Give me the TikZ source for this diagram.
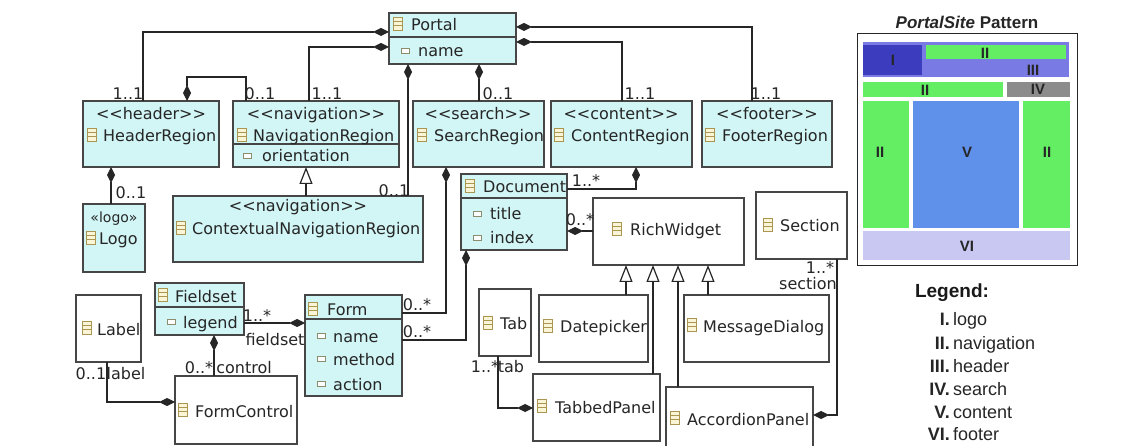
\documentclass[tikz,border=0pt]{standalone}
\usepackage{fontspec}
\usetikzlibrary{arrows.meta}
\newfontfamily\umlf{DejaVu Sans}
\newfontfamily\legf{Liberation Sans}
\definecolor{cyanfill}{RGB}{210,245,245}
\definecolor{boxc}{RGB}{70,70,70}
\definecolor{iconc}{RGB}{170,150,80}
\definecolor{iconfill}{RGB}{250,245,215}
\definecolor{attrc}{RGB}{140,140,110}
\definecolor{pgreen}{RGB}{100,238,100}
\definecolor{pband}{RGB}{122,122,228}
\definecolor{plogo}{RGB}{60,60,190}
\definecolor{pgray}{RGB}{140,140,140}
\definecolor{pblue}{RGB}{95,145,235}
\definecolor{plav}{RGB}{200,200,242}
\tikzset{
  cls/.style={draw=boxc, line width=1.3pt, fill=cyanfill, anchor=north west, inner sep=0pt, outer sep=0pt},
  wcls/.style={cls, fill=white},
  txt/.style={font=\umlf\fontsize{16}{18}\selectfont, inner sep=0pt, text=black!85},
  stxt/.style={txt, anchor=base},
  ntxt/.style={txt, anchor=base west},
  mult/.style={txt, anchor=center},
  conn/.style={draw=black!85, line width=1.2pt},
  comp/.style={conn, arrows={Diamond[length=16pt,width=8pt]-}},
  gen/.style={conn, arrows={-Triangle[open,length=17pt,width=13pt]}},
  divl/.style={draw=boxc, line width=1.3pt},
  rlab/.style={font=\legf\bfseries\fontsize{15}{17}\selectfont, inner sep=0pt, text=black!85},
  legt/.style={font=\legf\fontsize{18}{20}\selectfont, inner sep=0pt, text=black!85},
  legn/.style={font=\legf\bfseries\fontsize{18}{20}\selectfont, inner sep=0pt, text=black!85, anchor=base east},
}
\newcommand\clsicn[2]{%
  \draw[draw=iconc, line width=0.9pt, fill=iconfill] (#1,#2-14) rectangle (#1+9,#2-1);
  \draw[draw=iconc, line width=0.8pt] (#1,#2-10) -- (#1+9,#2-10) (#1,#2-5.5) -- (#1+9,#2-5.5);}
\newcommand\attricn[2]{%
  \draw[draw=attrc, line width=0.9pt, fill=white] (#1,#2-8.5) rectangle (#1+8,#2-4);}
\begin{document}
\begin{tikzpicture}[x=1pt,y=-1pt]
\useasboundingbox[fill=white] (0,0) rectangle (1135,446);

% ---------------- boxes ----------------
\node[cls, minimum width=127pt, minimum height=51pt] (portal) at (389,13) {};
\node[cls, minimum width=136pt, minimum height=66pt] (hdr) at (83,101) {};
\node[cls, minimum width=166pt, minimum height=66pt] (nav) at (233,101) {};
\node[cls, minimum width=131pt, minimum height=66pt] (srch) at (413,101) {};
\node[cls, minimum width=141pt, minimum height=66pt] (cont) at (551,101) {};
\node[cls, minimum width=130pt, minimum height=66pt] (foot) at (702,101) {};
\node[cls, minimum width=62pt, minimum height=68pt] (logo) at (83,204) {};
\node[cls, minimum width=250pt, minimum height=66pt] (ctx) at (173,196) {};
\node[cls, minimum width=106pt, minimum height=76pt] (doc) at (461,174) {};
\node[wcls, minimum width=151pt, minimum height=67pt] (rw) at (593,198) {};
\node[wcls, minimum width=91pt, minimum height=67pt] (sec) at (756,192) {};
\node[wcls, minimum width=52pt, minimum height=67pt] (tab) at (479,289) {};
\node[wcls, minimum width=109pt, minimum height=67pt] (date) at (539,295) {};
\node[wcls, minimum width=145pt, minimum height=67pt] (msg) at (684,295) {};
\node[wcls, minimum width=127pt, minimum height=67pt] (tabp) at (533,374) {};
\node[wcls, minimum width=147pt, minimum height=70pt] (acc) at (666,387) {};
\node[cls, minimum width=89pt, minimum height=52pt] (fs) at (155,283) {};
\node[cls, minimum width=97pt, minimum height=101pt] (form) at (305,295) {};
\node[wcls, minimum width=65pt, minimum height=67pt] (lbl) at (76,295) {};
\node[wcls, minimum width=122pt, minimum height=68pt] (fc) at (175,376) {};

% dividers
\draw[divl] (portal.west |- 0,37) -- (portal.east |- 0,37);
\draw[divl] (nav.west |- 0,144) -- (nav.east |- 0,144);
\draw[divl] (doc.west |- 0,198) -- (doc.east |- 0,198);
\draw[divl] (fs.west |- 0,307) -- (fs.east |- 0,307);
\draw[divl] (form.west |- 0,319) -- (form.east |- 0,319);

% ---------------- texts ----------------
\clsicn{393}{31} \node[ntxt] (portal-t) at (411,31) {Portal};
\attricn{401}{57} \node[ntxt] (portal-a) at (418,57) {name};

\node[stxt] (hdr-s) at (151,120) {<<header>>};
\clsicn{87}{142} \node[ntxt] (hdr-t) at (103,142) {HeaderRegion};

\node[stxt] (nav-s) at (316,120) {<<navigation>>};
\clsicn{237}{142} \node[ntxt] (nav-t) at (253,142) {NavigationRegion};
\attricn{243}{162} \node[ntxt] (nav-a) at (262,162) {orientation};

\node[stxt] (srch-s) at (478,120) {<<search>>};
\clsicn{417}{142} \node[ntxt] (srch-t) at (434,142) {SearchRegion};

\node[stxt] (cont-s) at (621,120) {<<content>>};
\clsicn{554}{142} \node[ntxt] (cont-t) at (571,142) {ContentRegion};

\node[stxt] (foot-s) at (767,120) {<<footer>>};
\clsicn{705}{142} \node[ntxt] (foot-t) at (722,142) {FooterRegion};

\node[txt, anchor=base, font=\umlf\fontsize{14}{16}\selectfont] (logo-s) at (114,223) {«logo»};
\clsicn{86}{245} \node[ntxt] (logo-t) at (99,245) {Logo};

\node[stxt] (ctx-s) at (298,212) {<<navigation>>};
\clsicn{176}{235} \node[ntxt] (ctx-t) at (192,235) {ContextualNavigationRegion};

\clsicn{465}{193} \node[ntxt] (doc-t) at (483,193) {Document};
\attricn{473}{220} \node[ntxt] (doc-a1) at (490,220) {title};
\attricn{473}{244} \node[ntxt] (doc-a2) at (490,244) {index};

\clsicn{612}{236} \node[ntxt] (rw-t) at (630,236) {RichWidget};
\clsicn{763}{232} \node[ntxt] (sec-t) at (780,232) {Section};
\clsicn{483}{330} \node[ntxt] (tab-t) at (500,330) {Tab};
\clsicn{543}{333} \node[ntxt] (date-t) at (560,333) {Datepicker};
\clsicn{687}{332} \node[ntxt] (msg-t) at (703,332) {MessageDialog};
\clsicn{537}{413} \node[ntxt] (tabp-t) at (555,413) {TabbedPanel};
\clsicn{670}{425} \node[ntxt] (acc-t) at (687,425) {AccordionPanel};

\clsicn{158}{302} \node[ntxt] (fs-t) at (175,302) {Fieldset};
\attricn{167}{328} \node[ntxt] (fs-a) at (183,328) {legend};

\clsicn{308}{316} \node[ntxt] (form-t) at (327,316) {Form};
\attricn{317}{342} \node[ntxt] (form-a1) at (333,342) {name};
\attricn{317}{365} \node[ntxt] (form-a2) at (333,365) {method};
\attricn{317}{390} \node[ntxt] (form-a3) at (333,390) {action};

\clsicn{82}{335} \node[ntxt] (lbl-t) at (97,335) {Label};
\clsicn{178}{417} \node[ntxt] (fc-t) at (195,417) {FormControl};

% ---------------- connectors ----------------
\draw[comp] (portal.west |- 0,32) -- (143,32) -- (hdr.north -| 143,0);
\draw[comp] (portal.west |- 0,47) -- (309,47) -- (nav.north -| 309,0);
\draw[comp] (portal.east |- 0,27) -- (752,27) -- (foot.north -| 752,0);
\draw[comp] (portal.east |- 0,42) -- (622,42) -- (cont.north -| 622,0);
\draw[comp] (portal.south -| 479,0) -- (srch.north -| 479,0);
\draw[comp] (portal.south -| 408,0) -- (ctx.north -| 408,0);
\draw[comp] (hdr.north -| 187,0) -- (187,77) -- (246,77) -- (nav.north -| 246,0);
\draw[comp] (hdr.south -| 111,0) -- (logo.north -| 111,0);
\draw[gen] (ctx.north -| 306,0) -- (nav.south -| 306,0);
\draw[comp] (srch.south -| 446,0) -- (446,313) -- (form.east |- 0,313);
\draw[comp] (doc.south -| 466,0) -- (466,340) -- (form.east |- 0,340);
\draw[comp] (cont.south -| 636,0) -- (636,189) -- (doc.east |- 0,189);
\draw[comp] (doc.east |- 0,231) -- (rw.west |- 0,231);
\draw[gen] (date.north -| 626,0) -- (rw.south -| 626,0);
\draw[gen] (tabp.north -| 653,0) -- (rw.south -| 653,0);
\draw[gen] (acc.north -| 678,0) -- (rw.south -| 678,0);
\draw[gen] (msg.north -| 708,0) -- (rw.south -| 708,0);
\draw[comp] (acc.east |- 0,415) -- (837,415) -- (sec.south -| 837,0);
\draw[comp] (tabp.west |- 0,408) -- (498,408) -- (tab.south -| 498,0);
\draw[comp] (form.west |- 0,323) -- (fs.east |- 0,323);
\draw[comp] (fs.south -| 214,0) -- (fc.north -| 214,0);
\draw[comp] (fc.west |- 0,402) -- (107,402) -- (lbl.south -| 107,0);

% ---------------- multiplicities ----------------
\node[mult] (m1) at (128,94) {1..1};
\node[mult] (m2) at (260,94) {0..1};
\node[mult] (m3) at (327,94) {1..1};
\node[mult] (m4) at (498,94) {0..1};
\node[mult] (m5) at (640,94) {1..1};
\node[mult] (m6) at (766,94) {1..1};
\node[mult] (m7) at (131,193) {0..1};
\node[mult] (m8) at (394,191) {0..1};
\node[mult] (m9) at (417,305) {0..*};
\node[mult] (m10) at (417,332) {0..*};
\node[mult] (m11) at (586,181) {1..*};
\node[mult] (m12) at (580,220) {0..*};
\node[mult] (m13) at (820,268) {1..*};
\node[mult] (m14) at (808,284) {section};
\node[mult] (m15) at (485,367) {1..*};
\node[mult] (m16) at (511,367) {tab};
\node[mult] (m17) at (257,316) {1..*};
\node[mult] (m18) at (275,340) {fieldset};
\node[mult] (m19) at (199,368) {0..*};
\node[mult] (m20) at (244,368) {control};
\node[mult] (m21) at (91,374) {0..1};
\node[mult] (m22) at (126,374) {label};

% ---------------- PortalSite pattern ----------------
\node[font=\legf\bfseries\fontsize{17}{19}\selectfont, inner sep=0pt, text=black!85] (ptitle) at (967,22) {\textit{PortalSite} Pattern};
\node[draw=black!85, line width=1.2pt, fill=white, anchor=north west, minimum width=220pt, minimum height=232pt, inner sep=0pt] (pframe) at (857,33) {};
\fill[pband] (863,42) rectangle (1069,77);
\fill[plogo] (863,45) rectangle (922,75);
\fill[pgreen] (926,45) rectangle (1066,59);
\fill[pgreen] (863,82) rectangle (1003,97);
\fill[pgray] (1007,82) rectangle (1070,97);
\fill[pgreen] (863,101) rectangle (909,228);
\fill[pblue] (913,101) rectangle (1019,228);
\fill[pgreen] (1023,101) rectangle (1070,228);
\fill[plav] (863,231) rectangle (1070,260);
\node[rlab] (r1) at (893,60) {I};
\node[rlab] (r2) at (985,53) {II};
\node[rlab] (r3) at (1033,70) {III};
\node[rlab] (r4) at (925,90) {II};
\node[rlab] (r5) at (1038,89) {IV};
\node[rlab] (r6) at (880,152) {II};
\node[rlab] (r7) at (967,152) {V};
\node[rlab] (r8) at (1047,152) {II};
\node[rlab] (r9) at (967,246) {VI};

% ---------------- legend ----------------
\node[font=\legf\bfseries\fontsize{19}{21}\selectfont, inner sep=0pt, text=black!90, anchor=base] (legtitle) at (952,298) {Legend:};
\node[legn] (n1) at (950,326) {I.};   \node[legt, anchor=base west] (l1) at (953,326) {logo};
\node[legn] (n2) at (950,349) {II.};  \node[legt, anchor=base west] (l2) at (953,349) {navigation};
\node[legn] (n3) at (950,372) {III.}; \node[legt, anchor=base west] (l3) at (953,372) {header};
\node[legn] (n4) at (950,395) {IV.};  \node[legt, anchor=base west] (l4) at (953,395) {search};
\node[legn] (n5) at (950,418) {V.};   \node[legt, anchor=base west] (l5) at (953,418) {content};
\node[legn] (n6) at (950,440) {VI.};  \node[legt, anchor=base west] (l6) at (953,440) {footer};
\end{tikzpicture}
\end{document}
